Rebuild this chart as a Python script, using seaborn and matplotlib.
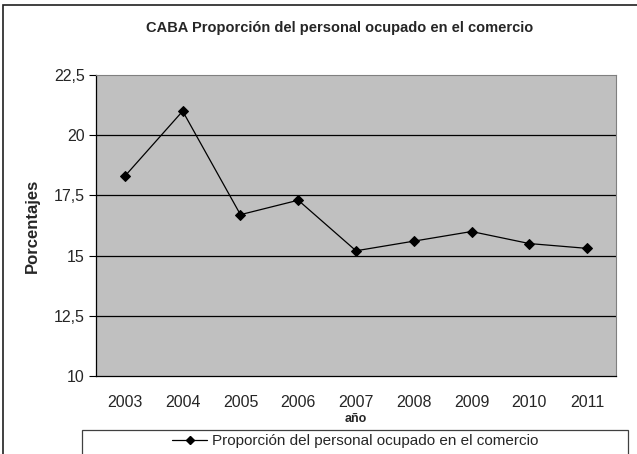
import numpy as np
import pandas as pd
import matplotlib
matplotlib.use("Agg")
import matplotlib.pyplot as plt
import seaborn as sns
from matplotlib.patches import Rectangle

# ## Data ## #
years = [2003, 2004, 2005, 2006, 2007, 2008, 2009, 2010, 2011]
values = [18.3, 21.0, 16.7, 17.3, 15.2, 15.6, 16.0, 15.5, 15.3]
series_name = "Proporción del personal ocupado en el comercio"
yticks = [10, 12.5, 15, 17.5, 20, 22.5]
ytick_labels = ["10", "12,5", "15", "17,5", "20", "22,5"]

df = pd.DataFrame({"año": years, "valor": values, "serie": series_name})

sns.set_style("white")
plt.rcParams["font.family"] = ["Liberation Sans", "DejaVu Sans"]

W, H = 637, 454
fig = plt.figure(figsize=(W / 100, H / 100), dpi=100)
ax = fig.add_axes([96 / W, 1 - 376 / H, 520 / W, 301 / H])
ax.set_facecolor("#C0C0C0")

# Outer chart border (right and bottom run off the picture)
fig.patches.append(Rectangle((3 / W, -0.05), 1.1, 1 - 5 / H + 0.05, transform=fig.transFigure,
                             fill=False, edgecolor="#202020", linewidth=1.2))

# Gridlines
for y in yticks[1:-1]:
    ax.axhline(y, color="black", linewidth=0.9, zorder=1)

sns.lineplot(data=df, x="año", y="valor", ax=ax, color="black", linewidth=0.9,
             marker="D", markersize=5, markeredgecolor="black", legend=False, zorder=3)

ax.set_xlim(2002.5, 2011.5)
ax.set_ylim(10, 22.5)
ax.set_xticks(years)
ax.set_xticklabels([str(y) for y in years], fontsize=11.5)
ax.set_xticks(np.arange(2002.5, 2012, 1), minor=True)
ax.tick_params(axis="x", which="major", length=0, pad=14)
ax.tick_params(axis="x", which="minor", length=5, width=0.8, color="black", direction="out")
ax.set_yticks(yticks)
ax.set_yticklabels(ytick_labels, fontsize=11.5)
ax.tick_params(axis="y", length=5, width=0.8, color="black", direction="out", left=True, pad=3)

for side in ["top", "right"]:
    ax.spines[side].set_color("#808080")
for side in ["left", "bottom"]:
    ax.spines[side].set_color("black")
    ax.spines[side].set_linewidth(0.9)

ax.set_xlabel("año", fontsize=9, fontweight="bold", labelpad=2)
ax.set_ylabel("Porcentajes", fontsize=12, fontweight="bold", labelpad=10)

fig.text(340 / W, 1 - 28 / H, "CABA Proporción del personal ocupado en el comercio",
         ha="center", va="center", fontsize=10.5, fontweight="bold")

# Legend box
fig.patches.append(Rectangle((82 / W, -0.05), 546 / W, 1 - 430 / H + 0.05, transform=fig.transFigure,
                             fill=False, edgecolor="#404040", linewidth=0.9))
handle = plt.Line2D([], [], color="black", linewidth=0.9, marker="D", markersize=4.5)
fig.legend([handle], [series_name], loc="center",
           bbox_to_anchor=(355 / W, 1 - 441 / H), frameon=False,
           fontsize=11, handlelength=2.3, handletextpad=0.3, borderpad=0)

fig.savefig("out.png", dpi=100)
